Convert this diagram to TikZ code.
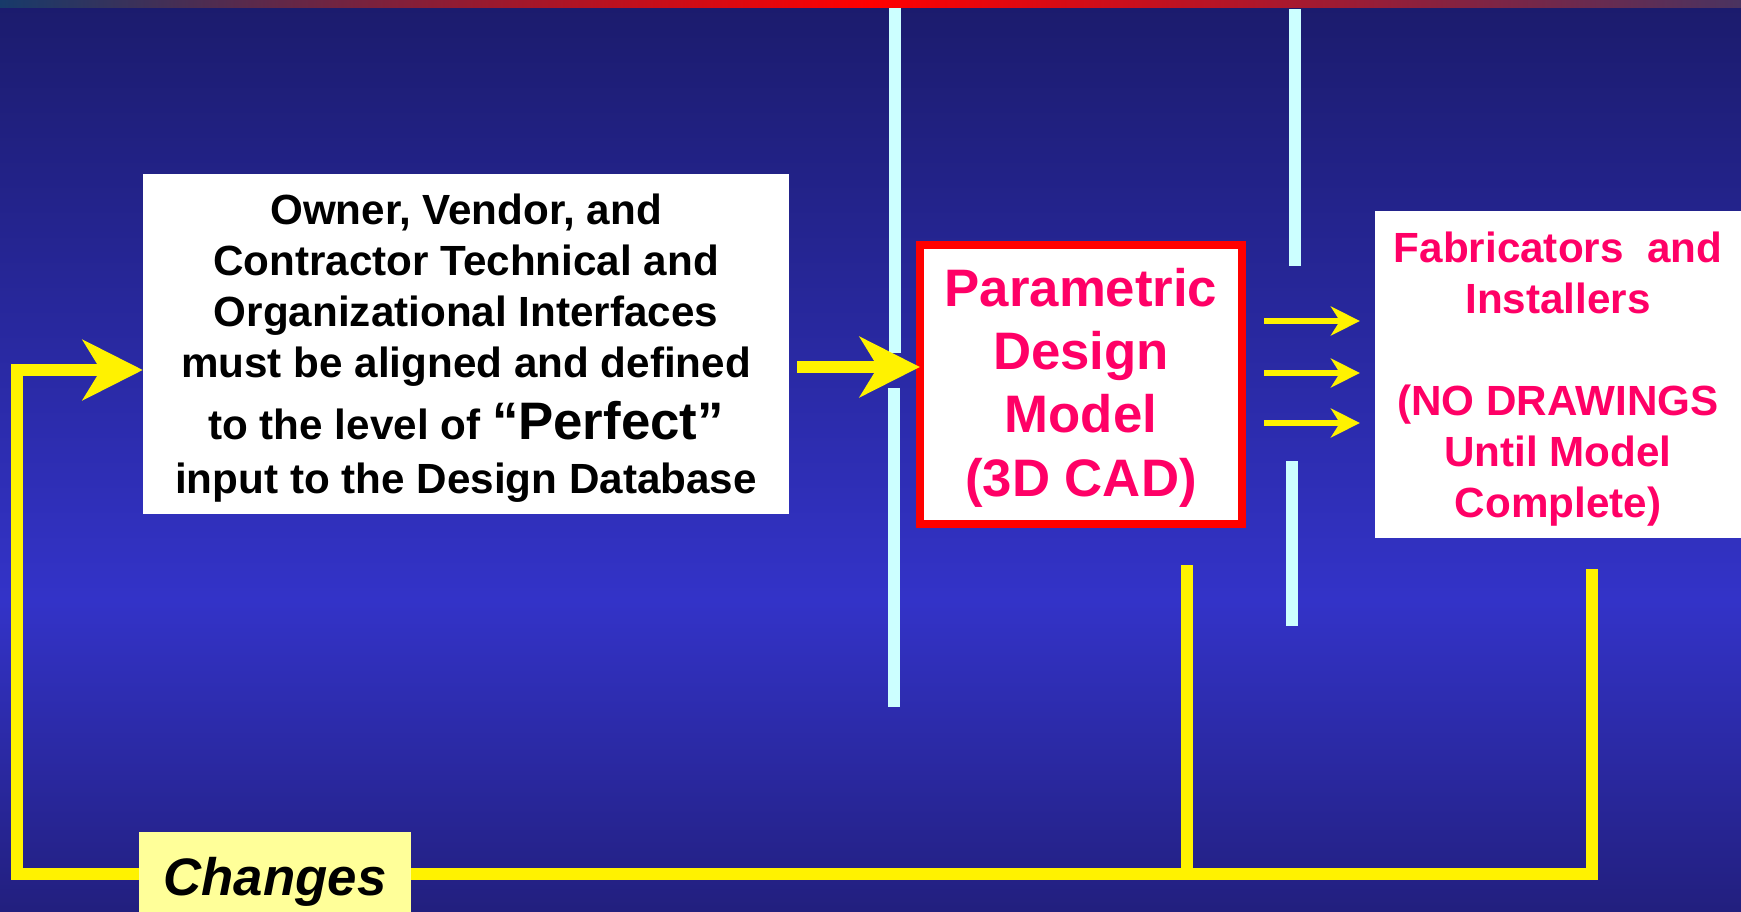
\documentclass[tikz,border=0pt]{standalone}
\usepackage{fontspec}
\setmainfont{Liberation Sans}
\usetikzlibrary{arrows.meta,calc}
\definecolor{navytop}{RGB}{27,27,108}
\definecolor{bluemid}{RGB}{51,51,200}
\definecolor{navybot}{RGB}{34,31,126}
\definecolor{stripl}{RGB}{23,58,106}
\definecolor{stripr}{RGB}{74,51,96}
\definecolor{icecyan}{RGB}{204,255,255}
\definecolor{hotpink}{RGB}{255,0,102}
\definecolor{paleyellow}{RGB}{255,255,153}
\begin{document}
\begin{tikzpicture}[x=0.01cm, y=-0.01cm,
    whitebox/.style={fill=white, inner sep=0pt, outer sep=0pt, align=center,
      font=\fontsize{12}{14.5}\selectfont\bfseries},
    feed/.style={yellow, line width=0.12cm},
    bigarr/.style={feed, -{Stealth[length=0.6cm, width=0.6cm, inset=0.18cm]}},
    smallarr/.style={yellow, line width=0.06cm, -{Stealth[length=0.29cm, width=0.29cm, inset=0.09cm]}},
    bar/.style={icecyan, line width=0.12cm}]
    % background
    \useasboundingbox (0,0) rectangle (1741,912);
    \shade[top color=navytop, bottom color=bluemid] (0,0) rectangle (1741,600);
    \shade[top color=bluemid, bottom color=navybot] (0,600) rectangle (1741,912);
    \shade[left color=stripl, right color=red] (0,0) rectangle (870,7);
    \shade[left color=red, right color=stripr] (870,0) rectangle (1741,7);
    % boxes
    \node[whitebox, minimum width=6.46cm, minimum height=3.40cm] (iface) at (466,344)
      {\rule{0pt}{11.2pt}Owner, Vendor, and\\ Contractor Technical and\\ Organizational Interfaces\\
       must be aligned and defined\\[3pt] to the level of {\fontsize{15}{18}\selectfont “Perfect”}\\[1pt]
       input to the Design Database};
    \node[whitebox, draw=red, line width=0.08cm, text=hotpink, minimum width=3.22cm, minimum height=2.79cm,
      font=\fontsize{15}{18}\selectfont\bfseries] (model) at (1081,384.5)
      {\rule{0pt}{12.6pt}Parametric\\ Design\\ Model\\ (3D CAD)};
    \node[whitebox, text=hotpink, minimum width=3.66cm, minimum height=3.27cm] (fab) at (1558,374.5)
      {\rule{0pt}{11.5pt}Fabricators\ \ and\\ Installers\\[14.5pt] (NO DRAWINGS\\ Until Model\\ Complete)};
    % walls
    \foreach \x/\a/\b in {895/8/353, 894/388/707, 1295/9/266, 1292/461/626}
      \draw[bar] (\x,\a) -- (\x,\b);
    % flow
    \coordinate (mid) at ($(iface.east)+(8,23)$);
    \draw[bigarr] (mid) -- (mid -| model.west);
    \foreach \dy in {-63.5,-11.5,38.5}
      \draw[smallarr] ($(model.east)+(22,\dy)$) -- ($(model.east -| fab.west)+(-15,\dy)$);
    % feedback loop
    \coordinate (corner) at (17,874);
    \coordinate (fabdrop) at (1592,569);
    \coordinate (moddrop) at (1187,565);
    \coordinate (fbin) at ($(iface.west)+(0,26)$);
    \draw[bigarr] (fabdrop) |- (corner) |- (fbin);
    \draw[feed] (moddrop) -- (moddrop |- corner);
    \node[fill=paleyellow, minimum width=2.72cm, minimum height=0.80cm, inner sep=0pt,
      font=\fontsize{15}{18}\selectfont\bfseries\itshape] (chg) at (275,872) {\rule{0pt}{16.3pt}Changes};
\end{tikzpicture}
\end{document}
